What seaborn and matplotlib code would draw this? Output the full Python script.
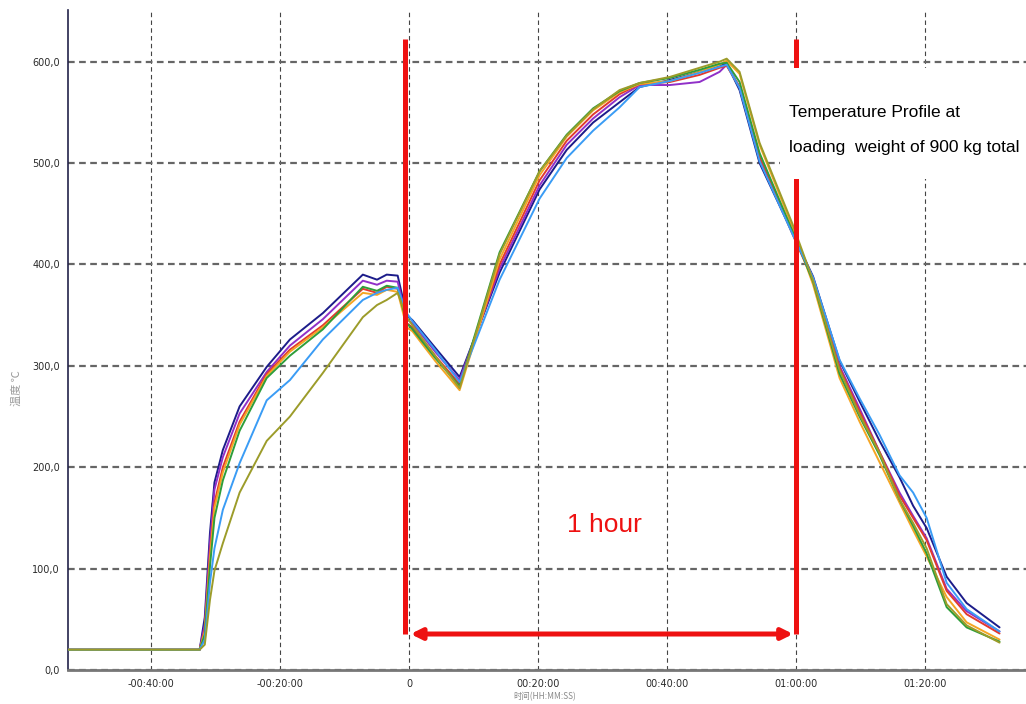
import pandas as pd
import matplotlib
matplotlib.use("Agg")
import matplotlib.pyplot as plt
from matplotlib.patches import Rectangle
from matplotlib.ticker import FixedLocator, MultipleLocator
import seaborn as sns

# --- données (temps en minutes, température en °C) ---
t_min = [-53.0, -32.5, -31.7, -30.9, -30.2, -28.9, -26.3, -22.1, -18.5, -13.4,
         -7.2, -5.0, -3.5, -1.8, -0.4, 0.5, 4.0, 7.8, 14.0, 20.2,
         24.4, 28.5, 32.6, 35.7, 40.4, 45.0, 48.1, 49.2, 51.2, 54.3,
         59.4, 62.6, 66.7, 69.8, 72.9, 76.0, 78.1, 80.2, 83.3, 86.4, 91.5]

navy = [20, 20, 52, 135, 185, 217, 260, 299, 326, 352,
        390, 385, 390, 389, 350, 345, 318, 289, 392, 474,
        513, 540, 560, 575, 582, 590, 596, 598, 572, 500,
        431, 388, 305, 265, 226, 190, 162, 140, 92, 66, 42]
purple = [20, 20, 45, 125, 178, 210, 253, 294, 320, 346,
          384, 380, 384, 383, 346, 342, 314, 286, 396, 478,
          518, 544, 565, 577, 577, 580, 590, 597, 575, 505,
          432, 386, 300, 258, 215, 175, 152, 130, 80, 58, 38]
red = [20, 20, 40, 115, 165, 200, 245, 292, 316, 340,
       376, 372, 378, 376, 342, 338, 310, 282, 400, 483,
       522, 548, 568, 578, 580, 587, 594, 596, 575, 506,
       430, 384, 298, 255, 215, 172, 150, 128, 78, 55, 36]
orange = [20, 20, 38, 110, 160, 195, 242, 290, 314, 338,
          372, 370, 375, 373, 338, 334, 305, 276, 405, 488,
          526, 552, 570, 578, 581, 590, 597, 601, 588, 518,
          437, 380, 288, 245, 205, 165, 138, 112, 72, 47, 30]
green = [20, 20, 35, 102, 150, 187, 236, 288, 310, 336,
         378, 374, 379, 377, 342, 336, 308, 280, 412, 492,
         528, 554, 571, 579, 584, 592, 598, 599, 580, 510,
         433, 383, 292, 250, 212, 168, 142, 115, 62, 42, 28]
light_blue = [20, 20, 30, 86, 120, 158, 204, 266, 286, 326,
              365, 372, 375, 377, 352, 344, 316, 284, 385, 465,
              505, 532, 555, 575, 581, 589, 595, 597, 574, 502,
              430, 387, 306, 268, 232, 192, 175, 150, 86, 60, 38]
olive = [20, 20, 25, 69, 98, 125, 175, 226, 250, 293,
         348, 360, 365, 372, 348, 340, 310, 278, 410, 492,
         527, 553, 572, 579, 585, 594, 600, 603, 590, 520,
         440, 384, 296, 252, 214, 168, 145, 120, 65, 44, 27]

series = {'navy': navy, 'purple': purple, 'red': red, 'orange': orange,
          'green': green, 'light_blue': light_blue, 'olive': olive}
colors = {'navy': '#1c1c8a', 'purple': '#9030c8', 'red': '#e23a2e',
          'orange': '#f5a524', 'green': '#2e9e3a', 'light_blue': '#3a9cf5',
          'olive': '#9c9c2a'}

x_ticks = [-40, -20, 0, 20, 40, 60, 80]
x_labels = ['-00:40:00', '-00:20:00', '0', '00:20:00', '00:40:00', '01:00:00', '01:20:00']
y_ticks = [0, 100, 200, 300, 400, 500, 600]
y_labels = ['0,0', '100,0', '200,0', '300,0', '400,0', '500,0', '600,0']

df = pd.concat([pd.DataFrame({'t': t_min, 'T': v, 'capteur': k}) for k, v in series.items()])

# --- figure ---
sns.set_style("white")
plt.rcParams['font.family'] = ['DejaVu Sans', 'Noto Sans CJK SC']

fig = plt.figure(figsize=(10.26, 7.04), dpi=100)
ax = fig.add_axes([0.0663, 0.0483, 0.9337, 0.9375])

sns.lineplot(data=df, x='t', y='T', hue='capteur', palette=colors, estimator=None,
             linewidth=1.4, legend=False, ax=ax, zorder=3)

ax.set_xlim(-52.9, 95.6)
ax.set_ylim(0, 651)
ax.xaxis.set_major_locator(FixedLocator(x_ticks))
ax.set_xticklabels(x_labels)
ax.xaxis.set_minor_locator(MultipleLocator(4))
ax.set_yticks(y_ticks)
ax.set_yticklabels(y_labels)
ax.tick_params(axis='both', which='both', labelsize=7, colors='#2a2a2a', direction='out')
ax.tick_params(axis='x', which='both', length=5, width=0.8, pad=1.5)
ax.tick_params(axis='y', length=4, width=0.8, pad=2)
ax.set_xlabel('')
ax.set_ylabel('')

ax.yaxis.grid(True, linestyle=(0, (3, 2)), color='#666666', linewidth=1.6, zorder=0)
ax.xaxis.grid(True, which='major', linestyle=(0, (4, 3)), color='#444444', linewidth=0.8, zorder=0)
ax.set_axisbelow(True)

for s in ['top', 'right']:
    ax.spines[s].set_visible(False)
ax.spines['left'].set_color('#22224a')
ax.spines['left'].set_linewidth(1.2)
ax.spines['bottom'].set_color('#777777')
ax.spines['bottom'].set_linewidth(2)

# --- annotations rouges ---
rouge = '#ee1111'
ax.plot([-0.6, -0.6], [35.5, 622], color=rouge, linewidth=3.6, zorder=6, solid_capstyle='butt')
ax.plot([60, 60], [35.5, 622], color=rouge, linewidth=3.6, zorder=6, solid_capstyle='butt')
ax.annotate('', xy=(0.2, 35.5), xytext=(59.5, 35.5),
            arrowprops=dict(arrowstyle='<|-|>', color=rouge, lw=3.6, mutation_scale=16,
                            shrinkA=0, shrinkB=0), zorder=6)
ax.text(30.3, 143, '1 hour', color=rouge, fontsize=19, ha='center', va='center',
        family=['Liberation Sans'], zorder=7)

# encadré blanc avec le titre
ax.add_patch(Rectangle((57.4, 484), 40, 110, facecolor='white', edgecolor='none', zorder=8))
ax.text(58.8, 545, 'Temperature Profile at', fontsize=12.5, ha='left', va='baseline',
        color='black', family=['Liberation Sans'], zorder=9)
ax.text(58.8, 511, 'loading  weight of 900 kg total', fontsize=12.5, ha='left', va='baseline',
        color='black', family=['Liberation Sans'], zorder=9)

# libellés des axes (gris, petits)
fig.text(17 / 1026, 1 - 388 / 704, '温度 ℃', rotation=90, fontsize=8, color='#9a9a9a',
         ha='center', va='center', family=['Noto Sans CJK SC', 'DejaVu Sans'])
fig.text(513 / 1026, 1 - 697 / 704, '时间(HH:MM:SS)', fontsize=6, color='#8a8a8a',
         ha='left', va='center', family=['Noto Sans CJK SC', 'DejaVu Sans'])

plt.savefig('out.png', dpi=100)
